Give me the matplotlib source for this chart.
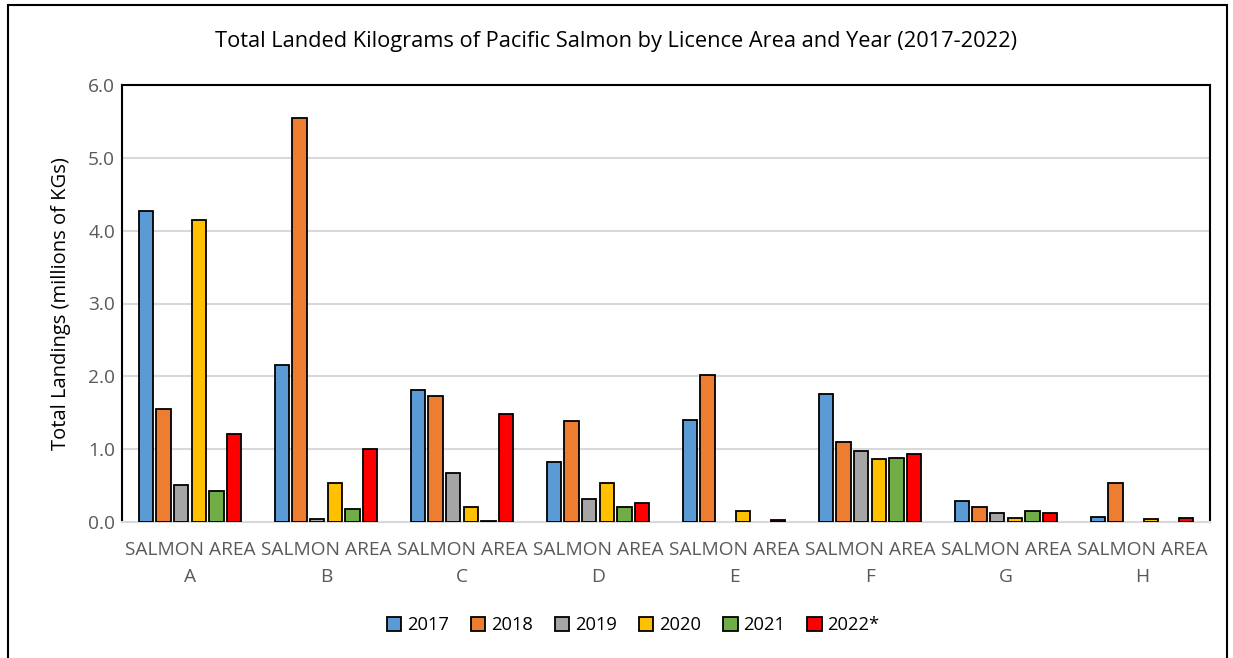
import matplotlib.pyplot as plt
import numpy as np
from matplotlib.patches import Rectangle

AREAS = ['SALMON AREA\nA', 'SALMON AREA\nB', 'SALMON AREA\nC', 'SALMON AREA\nD',
         'SALMON AREA\nE', 'SALMON AREA\nF', 'SALMON AREA\nG', 'SALMON AREA\nH']
YEARS = ['2017', '2018', '2019', '2020', '2021', '2022*']

# millions of kg
Y2017 = [4.27, 2.16, 1.81, 0.83, 1.40, 1.76, 0.29, 0.07]
Y2018 = [1.55, 5.55, 1.73, 1.38, 2.02, 1.10, 0.20, 0.53]
Y2019 = [0.51, 0.04, 0.67, 0.31, 0.00, 0.97, 0.13, 0.00]
Y2020 = [4.14, 0.53, 0.20, 0.53, 0.15, 0.87, 0.055, 0.04]
Y2021 = [0.42, 0.18, 0.01, 0.21, 0.00, 0.88, 0.15, 0.00]
Y2022 = [1.21, 1.00, 1.48, 0.26, 0.03, 0.94, 0.13, 0.06]

COLORS = ['#5B9BD5', '#ED7D31', '#A5A5A5', '#FFC000', '#70AD47', '#FF0000']

plt.rcParams['font.family'] = ['Open Sans', 'DejaVu Sans']

fig = plt.figure(figsize=(12.33, 6.58), dpi=100)
ax = fig.add_axes([122 / 1233, 1 - 522 / 658, (1210 - 122) / 1233, (522 - 85) / 658])

# outer chart frame
fig.patches.append(Rectangle((8 / 1233, -0.01), (1227 - 8) / 1233, 1 - 5 / 658 + 0.01,
                             transform=fig.transFigure, fill=False,
                             edgecolor='black', linewidth=1.5))

x = np.arange(len(AREAS))
step = 0.13
width = 0.105
series = [Y2017, Y2018, Y2019, Y2020, Y2021, Y2022]
for i, (vals, year, col) in enumerate(zip(series, YEARS, COLORS)):
    lws = [1.3 if v > 0 else 0 for v in vals]  # empty bars show nothing
    ax.bar(x + (i - 2.5) * step, vals, width, color=col, edgecolor='black',
           linewidth=lws, label=year, zorder=3)

ax.set_xlim(-0.5, len(AREAS) - 0.5)
ax.set_ylim(0, 6)
ax.set_yticks(np.arange(0, 6.01, 1.0))
ax.set_yticklabels(['%.1f' % v for v in np.arange(0, 6.01, 1.0)])
ax.yaxis.grid(True, color='#D9D9D9', linewidth=1.5, zorder=0)
ax.set_xticks(x)
ax.set_xticklabels(AREAS, fontsize=13.8, color='#595959', linespacing=1.6)
ax.tick_params(axis='y', labelsize=13.8, labelcolor='#595959', length=0, pad=5)
ax.tick_params(axis='x', length=0, pad=14)

for s in ['left', 'top', 'right']:
    ax.spines[s].set_color('black')
    ax.spines[s].set_linewidth(1.5)
ax.spines['bottom'].set_color('#D9D9D9')
ax.spines['bottom'].set_linewidth(1.5)

ax.set_ylabel('Total Landings (millions of KGs)', fontsize=14.5, labelpad=12)
fig.text(0.5, 1 - 42 / 658, 'Total Landed Kilograms of Pacific Salmon by Licence Area and Year (2017-2022)',
         ha='center', va='center', fontsize=15.7)

leg = ax.legend(loc='center', bbox_to_anchor=(0.5 + (633 - 666) / 1088, (522 - 625) / 437),
                ncol=6, frameon=False, fontsize=13.2, handlelength=0.8, handleheight=0.8,
                handletextpad=0.3, columnspacing=1.2)
for h in leg.legend_handles:
    h.set_linewidth(1.3)

fig.savefig('out.png', dpi=100)
